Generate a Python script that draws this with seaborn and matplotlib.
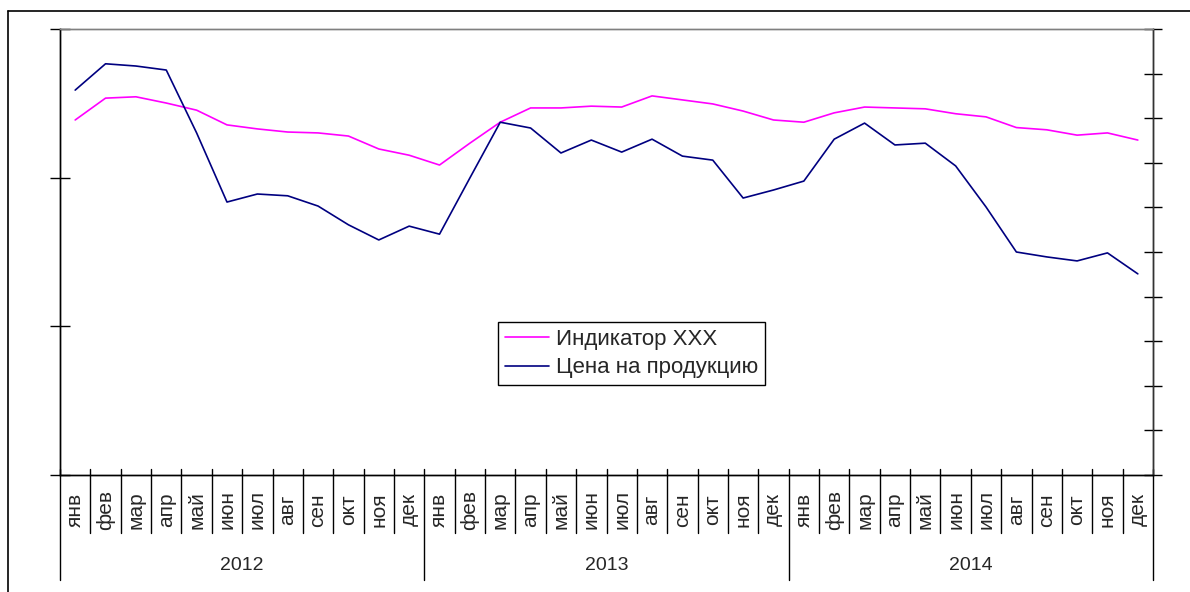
import matplotlib as mpl
mpl.use('Agg')
import numpy as np
import pandas as pd
import seaborn as sns
import matplotlib.pyplot as plt
from matplotlib.lines import Line2D

sns.set_style("white")
plt.rcParams['font.family'] = ['Liberation Sans', 'DejaVu Sans']

months = ["янв", "фев", "мар", "апр", "май", "июн",
          "июл", "авг", "сен", "окт", "ноя", "дек"]
years = ["2012", "2013", "2014"]

indicator = [79.6, 84.5, 84.8, 83.4, 81.8, 78.5, 77.6, 76.9, 76.7, 76.0, 73.1, 71.7,
             69.5, 74.4, 79.1, 82.3, 82.3, 82.7, 82.5, 85.0, 84.1, 83.2, 81.6, 79.6,
             79.1, 81.2, 82.5, 82.3, 82.1, 81.0, 80.3, 77.9, 77.4, 76.2, 76.7, 75.1]
price = [86.3, 92.2, 91.7, 90.8, 76.7, 61.2, 63.0, 62.6, 60.3, 56.1, 52.7, 55.8,
         54.0, 66.6, 79.1, 77.8, 72.2, 75.1, 72.4, 75.3, 71.5, 70.6, 62.1, 63.9,
         65.9, 75.3, 78.9, 74.0, 74.4, 69.3, 60.1, 50.0, 48.9, 48.0, 49.8, 45.1]

labels = months * len(years)
df = pd.DataFrame({"x": np.arange(len(labels)),
                   "Индикатор XXX": indicator,
                   "Цена на продукцию": price})

W, H = 1190, 592
fig = plt.figure(figsize=(11.9, 5.92), dpi=100)
ax = fig.add_axes([60 / W, (H - 475) / H, (1153 - 60) / W, (475 - 29) / H])

sns.lineplot(data=df, x="x", y="Индикатор XXX", color="#FF00FF", lw=1.2,
             ax=ax, label="Индикатор XXX")
sns.lineplot(data=df, x="x", y="Цена на продукцию", color="#000080", lw=1.2,
             ax=ax, label="Цена на продукцию")

n = len(labels)
ax.set_xlim(-0.5, n - 0.5)
ax.set_ylim(0, 100)
ax.set_xlabel("")
ax.set_ylabel("")

# month labels
ax.set_xticks(np.arange(n))
ax.set_xticklabels(labels, rotation=90, va="center", fontsize=15)
ax.tick_params(axis="x", length=0, pad=25)

# left axis: 3 intervals, no labels
ax.set_yticks(np.linspace(0, 100, 4))
ax.set_yticklabels([])
ax.tick_params(axis="y", direction="inout", length=14, width=1, color="black", left=True)

# right axis: 10 intervals, no labels
ax2 = ax.twinx()
ax2.set_ylim(0, 100)
ax2.set_yticks(np.linspace(0, 100, 11))
ax2.set_yticklabels([])
ax2.tick_params(axis="y", direction="inout", length=13, width=1, color="black", right=True)

for a in (ax, ax2):
    for s in a.spines.values():
        s.set_linewidth(1.0)
        s.set_color("black")
    a.spines["top"].set_color("#808080")
ax2.spines["right"].set_color("#333333")

# category separators and year separators
tr = ax.get_xaxis_transform()
for b in np.arange(-0.5, n, 1.0):
    if (b + 0.5) % 12 == 0:
        ax.plot([b, b], [0.013, -0.236], color="black", lw=1, transform=tr, clip_on=False)
    else:
        ax.plot([b, b], [0.013, -0.130], color="black", lw=1, transform=tr, clip_on=False)

for i, yr in enumerate(years):
    ax.text(i * 12 + 5.5, -0.204, yr, transform=tr, ha="center", va="center", fontsize=14)

leg = ax.legend(loc="upper left", bbox_to_anchor=(0.401, 0.343), fontsize=16,
                frameon=True, fancybox=False, shadow=False, handlelength=2.0,
                borderpad=0.3, labelspacing=0.35, handletextpad=0.3, borderaxespad=0)
leg.get_frame().set_edgecolor("black")
leg.get_frame().set_linewidth(1.0)
leg.get_frame().set_alpha(1)

# outer chart frame (left and top edges visible)
fig.add_artist(Line2D([8 / W, 8 / W], [0, 1 - 11 / H], color="black", lw=1.2,
                      transform=fig.transFigure))
fig.add_artist(Line2D([8 / W, 1], [1 - 11 / H, 1 - 11 / H], color="black", lw=1.2,
                      transform=fig.transFigure))

fig.savefig("out.png", dpi=100)
